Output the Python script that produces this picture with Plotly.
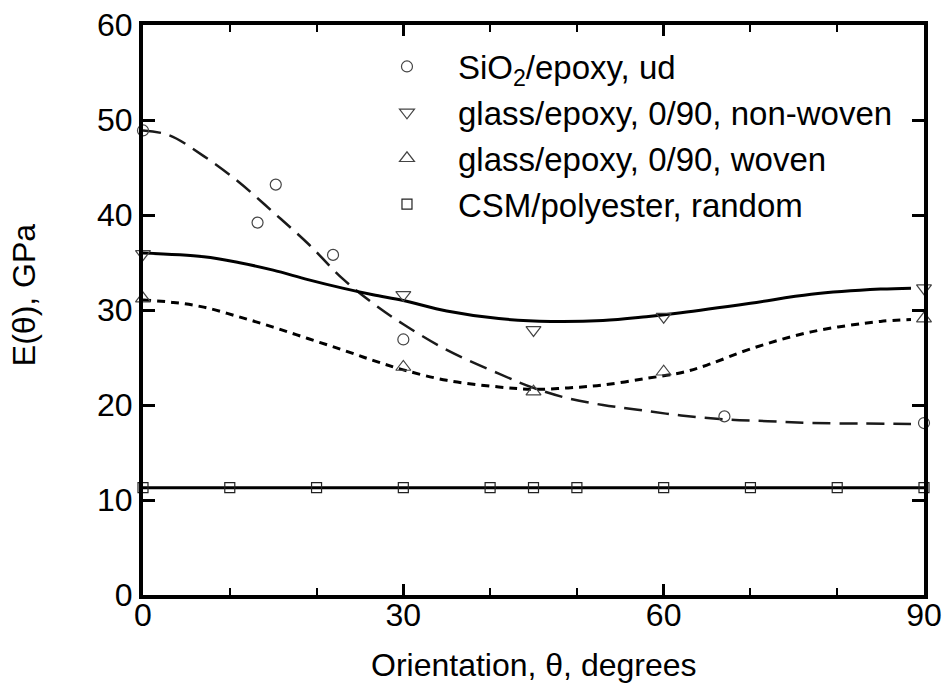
import plotly.graph_objects as go

sio2_theta = [0, 13.2, 15.3, 21.9, 30, 67, 90]
sio2_E = [48.9, 39.2, 43.2, 35.8, 26.9, 18.8, 18.1]

nonwoven_theta = [0, 30, 45, 60, 90]
nonwoven_E = [35.9, 31.6, 27.9, 29.3, 32.3]

woven_theta = [0, 30, 45, 60, 90]
woven_E = [31.2, 24.0, 21.4, 23.5, 29.1]

csm_theta = [0, 10, 20, 30, 40, 45, 50, 60, 70, 80, 90]
csm_E = [11.3, 11.3, 11.3, 11.3, 11.3, 11.3, 11.3, 11.3, 11.3, 11.3, 11.3]

# ---- fitted curves ----
sio2_fit_theta = [0, 3, 7, 11, 15, 19, 23, 26.5, 30, 35, 41, 45, 49, 53, 57, 62, 67, 72, 77, 83, 88.5]
sio2_fit_E = [48.9, 48.4, 46.2, 43.5, 40.3, 37.0, 33.3, 30.7, 28.5, 25.8, 23.3, 21.8, 20.7, 20.0, 19.5, 18.9, 18.5, 18.3, 18.1, 18.05, 18.0]

nonwoven_fit_theta = [0, 7, 11, 15, 19, 23, 26.5, 30, 35, 41, 47, 53, 58, 62, 70, 77, 85, 88.5]
nonwoven_fit_E = [36.0, 35.6, 35.0, 34.2, 33.2, 32.3, 31.6, 31.0, 29.9, 29.1, 28.8, 28.9, 29.3, 29.7, 30.7, 31.65, 32.2, 32.3]

woven_fit_theta = [0, 3.5, 7, 11, 15, 19, 23, 26.5, 30, 35, 41, 45, 49, 53, 58, 62, 65, 70, 77, 85, 88.5]
woven_fit_E = [31.05, 30.8, 30.3, 29.3, 28.2, 27.0, 25.8, 24.7, 23.7, 22.6, 21.9, 21.65, 21.8, 22.1, 22.8, 23.4, 24.2, 25.9, 27.7, 28.8, 29.0]

legend_names = ["SiO<sub>2</sub>/epoxy, ud",
                "glass/epoxy, 0/90, non-woven",
                "glass/epoxy, 0/90, woven",
                "CSM/polyester, random"]

x_title = "Orientation, θ, degrees"
y_title = "E(θ), GPa"

FONT = "Liberation Sans, Arial, sans-serif"
MCOL = "#444444"

fig = go.Figure()

# fitted curves (no legend)
fig.add_trace(go.Scatter(x=sio2_fit_theta, y=sio2_fit_E, mode="lines", line_shape="spline",
                         line=dict(color="#1a1a1a", width=2.5, dash="18px,9px"),
                         showlegend=False, hoverinfo="skip"))
fig.add_trace(go.Scatter(x=nonwoven_fit_theta, y=nonwoven_fit_E, mode="lines", line_shape="spline",
                         line=dict(color="#000000", width=3),
                         showlegend=False, hoverinfo="skip"))
fig.add_trace(go.Scatter(x=woven_fit_theta, y=woven_fit_E, mode="lines", line_shape="spline",
                         line=dict(color="#000000", width=3, dash="8px,6px"),
                         showlegend=False, hoverinfo="skip"))
fig.add_trace(go.Scatter(x=csm_theta, y=csm_E, mode="lines",
                         line=dict(color="#000000", width=3),
                         showlegend=False, hoverinfo="skip"))

# data markers (with legend)
fig.add_trace(go.Scatter(x=sio2_theta, y=sio2_E, mode="markers", name=legend_names[0], legendgroup="g1",
                         marker=dict(symbol="circle-open", size=11, color=MCOL, line=dict(width=1.2)),
                         cliponaxis=False))
fig.add_trace(go.Scatter(x=nonwoven_theta, y=nonwoven_E, mode="markers", name=legend_names[1], legendgroup="g2",
                         marker=dict(symbol="triangle-down-open", size=13, color=MCOL, line=dict(width=1.2)),
                         cliponaxis=False))
fig.add_trace(go.Scatter(x=woven_theta, y=woven_E, mode="markers", name=legend_names[2], legendgroup="g3",
                         marker=dict(symbol="triangle-up-open", size=13, color=MCOL, line=dict(width=1.2)),
                         cliponaxis=False))
fig.add_trace(go.Scatter(x=csm_theta, y=csm_E, mode="markers", name=legend_names[3], legendgroup="g4",
                         marker=dict(symbol="square-open", size=10, color="#222222", line=dict(width=1.2)),
                         cliponaxis=False))

axis_common = dict(showline=True, linewidth=4, linecolor="black", mirror="ticks",
                   ticks="inside", tickcolor="black", showgrid=False, zeroline=False,
                   automargin=False,
                   tickfont=dict(family=FONT, size=32, color="black"))

fig.update_layout(
    width=945, height=690,
    margin=dict(l=143, r=21, t=25, b=95),
    paper_bgcolor="white", plot_bgcolor="white",
    font=dict(family=FONT, size=32, color="black"),
    xaxis=dict(range=[0, 90], tickvals=[0, 30, 60, 90], ticklen=11, tickwidth=3,
               ticklabelstandoff=-11,
               minor=dict(dtick=10, ticks="inside", ticklen=7, tickwidth=2, tickcolor="black"),
               **axis_common),
    yaxis=dict(range=[0, 60], dtick=10, ticklen=12, tickwidth=3,
               **axis_common),
    legend=dict(x=0.2727, y=0.9763, xanchor="left", yanchor="top",
                font=dict(family=FONT, size=33, color="black"),
                bgcolor="rgba(0,0,0,0)", itemwidth=92, tracegroupgap=0),
    showlegend=True,
    annotations=[
        dict(text=y_title, textangle=-90, xref="paper", yref="paper",
             x=-0.1524, y=0.526, xanchor="center", yanchor="middle",
             showarrow=False, font=dict(family=FONT, size=32, color="black")),
        dict(text=x_title, xref="paper", yref="paper",
             x=0.5, y=-0.1228, xanchor="center", yanchor="middle",
             showarrow=False, font=dict(family=FONT, size=32, color="black")),
    ],
)

fig.write_html("out.html")
